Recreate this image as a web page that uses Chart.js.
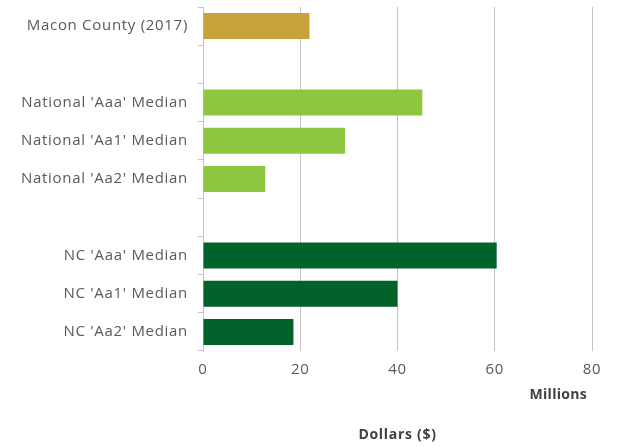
<!DOCTYPE html>
<html>
<head>
<meta charset="utf-8">
<script src="https://cdn.jsdelivr.net/npm/chart.js@4"></script>
<style>
  html, body { margin: 0; padding: 0; background: #fff; }
  #wrap { width: 618px; height: 447px; }
</style>
</head>
<body>
<div id="wrap"><canvas id="chart-area"></canvas></div>
<script>
// debt per rating group, millions of dollars
const categories = [
    'Macon County (2017)',
    '',
    "National 'Aaa' Median",
    "National 'Aa1' Median",
    "National 'Aa2' Median",
    '',
    "NC 'Aaa' Median",
    "NC 'Aa1' Median",
    "NC 'Aa2' Median"
];
const values = [21.9, null, 45.1, 29.2, 12.8, null, 60.4, 40.0, 18.6];
const barColors = ['#c9a23a', null, '#8dc63f', '#8dc63f', '#8dc63f', null, '#03612a', '#03612a', '#03612a'];
const xTicks = [0, 20, 40, 60, 80];

const labelFont = { family: 'Open Sans', size: 15 };
const textGrey = '#595959';
const lineGrey = '#c4c4c4';
const tracking = '0.7px';

// a little letter spacing on all canvas text (canvas resize wipes ctx state, so set it each pass)
const textTracking = {
    id: 'textTracking',
    beforeLayout(chart) { chart.ctx.letterSpacing = tracking; },
    beforeDraw(chart) { chart.ctx.letterSpacing = tracking; }
};

// "Millions" display-units caption under the axis, right side
const unitsLabel = {
    id: 'unitsLabel',
    afterDraw(chart) {
        const ctx = chart.ctx;
        const area = chart.chartArea;
        ctx.save();
        ctx.letterSpacing = '0.3px';
        ctx.font = 'bold 14px "Open Sans"';
        ctx.fillStyle = '#404040';
        ctx.textAlign = 'right';
        ctx.textBaseline = 'middle';
        ctx.fillText('Millions', area.right - 5, 395);
        ctx.restore();
    }
};

new Chart(document.getElementById('chart-area'), {
    type: 'bar',
    data: {
        labels: categories,
        datasets: [{
            data: values,
            backgroundColor: barColors,
            categoryPercentage: 1,
            barPercentage: 0.68
        }]
    },
    options: {
        indexAxis: 'y',
        responsive: true,
        maintainAspectRatio: false,
        animation: false,
        layout: { padding: { top: 7, right: 26, bottom: 0, left: 0 } },
        plugins: { legend: { display: false }, tooltip: { enabled: false } },
        scales: {
            x: {
                min: 0,
                max: 80,
                afterBuildTicks: (scale) => { scale.ticks = xTicks.map(v => ({ value: v })); },
                afterFit: (scale) => { scale.height = 96; },
                grid: { color: lineGrey, lineWidth: 1, drawTicks: false },
                border: { display: false },
                ticks: { color: textGrey, font: labelFont, padding: 10 },
                title: {
                    display: true,
                    text: 'Dollars ($)',
                    color: '#404040',
                    font: { family: 'Open Sans', size: 14, weight: 'bold' },
                    padding: { top: 0, bottom: 4 }
                }
            },
            y: {
                afterFit: (scale) => {
                    scale.width = 203;
                    scale.paddingTop = 0;
                    scale.paddingBottom = 0;
                },
                grid: { offset: true, drawOnChartArea: false, tickLength: 5, color: lineGrey },
                border: { color: lineGrey, width: 1 },
                ticks: { color: textGrey, font: labelFont, padding: 10, autoSkip: false }
            }
        }
    },
    plugins: [textTracking, unitsLabel]
});
</script>
</body>
</html>
